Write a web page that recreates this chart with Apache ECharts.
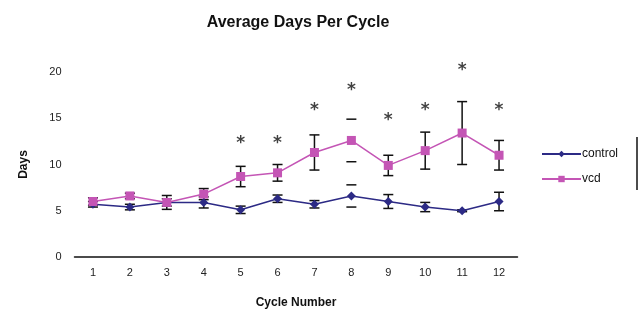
<!DOCTYPE html>
<html><head><meta charset="utf-8">
<script src="https://cdn.jsdelivr.net/npm/echarts@6/dist/echarts.min.js"></script>
<style>html,body{margin:0;padding:0;background:#fff}#c{width:640px;height:322px}</style>
</head><body><div id="c"></div>
<script>
const categories = ['1','2','3','4','5','6','7','8','9','10','11','12'];
const controlMean = [5.7,5.4,5.9,5.9,5.1,6.3,5.7,6.6,6.0,5.4,5.0,6.0];
const controlErr  = [0.3,0.3,0.75,0.6,0.4,0.4,0.4,1.2,0.75,0.5,0.1,1.0];
const vcdMean = [6.0,6.6,5.9,6.8,8.7,9.1,11.3,12.6,9.9,11.5,13.4,11.0];
const vcdErr  = [0.4,0.3,0.4,0.6,1.1,0.9,1.9,2.3,1.1,2.0,3.4,1.6];
const capsOnly = [7]; // index of cycle whose error bars show caps only
const starCycles = ['5','6','7','8','9','10','11','12'];
const starHeights = [12.7,12.7,16.3,18.4,15.2,16.3,20.6,16.3];
const yTicks = [0,5,10,15,20];

const pink = '#c455b5', navy = '#2c2a85';

function errSeries(mean, err, name){
  return {
    type:'custom', name:name+'_err', silent:true, z:3,
    data: mean.map((m,i)=>[i, m-err[i], m+err[i]]),
    renderItem(params, api){
      const i = api.value(0);
      const lo = api.coord([i, api.value(1)]);
      const hi = api.coord([i, api.value(2)]);
      const w = 5;
      const st = {stroke:'#111', lineWidth:1.5};
      const ch = [
        {type:'line', shape:{x1:hi[0]-w,y1:hi[1],x2:hi[0]+w,y2:hi[1]}, style:st},
        {type:'line', shape:{x1:lo[0]-w,y1:lo[1],x2:lo[0]+w,y2:lo[1]}, style:st}
      ];
      if (capsOnly.indexOf(i) < 0) ch.push({type:'line', shape:{x1:hi[0],y1:hi[1],x2:lo[0],y2:lo[1]}, style:st});
      return {type:'group', children: ch};
    }
  };
}

const chart = echarts.init(document.getElementById('c'), null, {renderer:'canvas'});
chart.setOption({
  animation:false,
  backgroundColor:'#fff',
  title:{text:'Average Days Per Cycle', left:293, top:10, textAlign:'center',
    textStyle:{fontFamily:'Liberation Sans, Arial', fontWeight:'bold', fontSize:16, color:'#111'}},
  grid:{left:74.5, right:122.5, top:72, bottom:65},
  legend:{
    orient:'vertical', left:536, top:143, itemWidth:39, itemHeight:8, itemGap:13,
    data:['control','vcd'],
    textStyle:{fontFamily:'Liberation Sans, Arial', fontSize:12, color:'#111', padding:[0,0,0,-4]}
  },
  xAxis:{
    type:'category', data:categories, boundaryGap:true,
    name:'Cycle Number', nameLocation:'middle', nameGap:40,
    nameTextStyle:{fontFamily:'Liberation Sans, Arial', fontWeight:'bold', fontSize:12, color:'#111'},
    axisLine:{lineStyle:{color:'#111', width:1.5}},
    axisTick:{show:false},
    axisLabel:{fontFamily:'Liberation Sans, Arial', fontSize:11, color:'#222', margin:10}
  },
  yAxis:{
    type:'value', min:yTicks[0], max:yTicks[yTicks.length-1], interval:5,
    name:'Days', nameLocation:'middle', nameGap:45, nameRotate:90,
    nameTextStyle:{fontFamily:'Liberation Sans, Arial', fontWeight:'bold', fontSize:12, color:'#111'},
    axisLine:{show:false}, axisTick:{show:false}, splitLine:{show:false},
    axisLabel:{fontFamily:'Liberation Sans, Arial', fontSize:11, color:'#222', margin:13}
  },
  series:[
    errSeries(vcdMean, vcdErr, 'vcd'),
    errSeries(controlMean, controlErr, 'control'),
    {type:'line', name:'control', data:controlMean, z:4,
      symbol:'diamond', symbolSize:9, showAllSymbol:true,
      lineStyle:{color:navy, width:1.5}, itemStyle:{color:navy}},
    {type:'line', name:'vcd', data:vcdMean, z:4,
      symbol:'rect', symbolSize:9, showAllSymbol:true,
      lineStyle:{color:pink, width:1.5}, itemStyle:{color:pink}},
    {type:'scatter', name:'stars', clip:false, silent:true, symbolSize:1,
      itemStyle:{color:'rgba(0,0,0,0)'},
      data: starCycles.map((c,i)=>[c, starHeights[i]]),
      label:{show:true, formatter:'*', position:'inside', offset:[0,4],
        fontFamily:'DejaVu Sans, Arial', fontWeight:'bold', fontSize:17, color:'#111'}}
  ],
  graphic:[{type:'line', shape:{x1:637,y1:137,x2:637,y2:190}, style:{stroke:'#111', lineWidth:1.5}}]
});
</script></body></html>
